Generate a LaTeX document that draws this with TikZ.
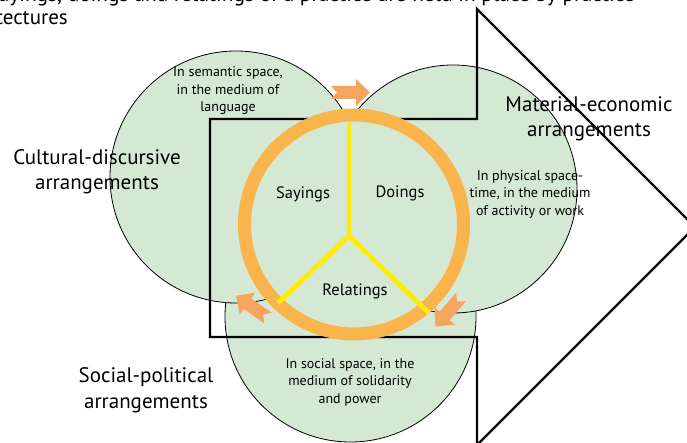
\documentclass[tikz,border=0pt]{standalone}
\usepackage{fontspec}
\setmainfont{PT Sans}
\definecolor{arrgreen}{HTML}{D5E8D4}
\definecolor{ringorange}{HTML}{F9B44C}
\definecolor{arroworange}{HTML}{F6A55E}
\definecolor{spokeyellow}{HTML}{FFED00}
\tikzset{
  arrcircle/.style={fill=arrgreen,draw=black,line width=0.8pt},
  bigarrow/.style={draw=black,line width=2.4pt,line join=miter},
  ring/.style={fill=arrgreen,draw=ringorange,line width=13pt},
  spoke/.style={draw=spokeyellow,line width=4.8pt},
  flowarrow/.style={fill=arroworange,draw=none},
  biglabel/.style={inner sep=0pt,align=center,font=\fontsize{21}{25.5}\selectfont},
  smalllabel/.style={inner sep=0pt,align=center,font=\fontsize{14}{17.5}\selectfont},
  midlabel/.style={inner sep=0pt,font=\fontsize{16.5}{20}\selectfont},
}
\newcommand{\flowshape}{(0,6.5) -- (25,6.5) -- (25,13.5) -- (39,0) -- (25,-13.5) -- (25,-6.5) -- (0,-6.5) -- (6,0) -- cycle}
\begin{document}
\begin{tikzpicture}[x=1pt,y=-1pt]
\useasboundingbox (0,0) rectangle (687,443);
\clip (0,0) rectangle (687,443);
% arrangement circles
\draw[arrcircle] (350.5,316.5) circle[radius=125.5];
\draw[arrcircle] (236,177) circle[radius=126];
\draw[arrcircle] (453,189) circle[radius=124];
% practice architecture arrow outline
\coordinate (tl) at (210,119);
\coordinate (tr) at (477,119);
\coordinate (ht) at (477,9);
\coordinate (tip) at (695,227);
\coordinate (hb) at (477,445);
\coordinate (br) at (477,337);
\coordinate (bl) at (210,337);
\draw[bigarrow] (tl) -- (tr) -- (ht) -- (tip) -- (hb) -- (br) -- (bl) -- cycle;
% ring
\draw[ring] (354,224.5) circle[radius=109.5];
% spokes
\coordinate (hub) at (349,236);
\coordinate (sup) at (349,123);
\coordinate (sleft) at (278,303);
\coordinate (sright) at (429,313);
\draw[spoke] (hub) -- (sup);
\draw[spoke] (hub) -- (sleft);
\draw[spoke] (hub) -- (sright);
% flow arrows
\fill[flowarrow,shift={(331,92.5)},rotate=0] \flowshape;
\fill[flowarrow,shift={(268,318)},rotate=145] \flowshape;
\fill[flowarrow,shift={(461,297)},rotate=229] \flowshape;
% labels
\node[smalllabel] (sem) at (228,91) {In semantic space,\\in the medium of\\language};
\node[smalllabel] (phys) at (530,194) {In physical space-\\time, in the medium\\of activity or work};
\node[smalllabel] (soc) at (350,382) {In social space, in the\\medium of solidarity\\and power};
\node[biglabel] (cult) at (97,172) {Cultural-discursive\\arrangements};
\node[biglabel] (mat) at (589,119) {Material-economic\\arrangements};
\node[biglabel] (socpol) at (146,390) {Social-political\\arrangements};
\node[midlabel,anchor=base] (say) at (303,199) {Sayings};
\node[midlabel,anchor=base] (do) at (400,198) {Doings};
\node[midlabel,anchor=base] (rel) at (355,295) {Relatings};
\node[inner sep=0pt,anchor=base east,font=\fontsize{21.4}{25.5}\selectfont] (cap1) at (635,1.5) {Sayings, doings and relatings of a practice are held in place by practice};
\node[inner sep=0pt,anchor=base east,font=\fontsize{21}{25.5}\selectfont] (cap2) at (68,25) {architectures};
\end{tikzpicture}
\end{document}
